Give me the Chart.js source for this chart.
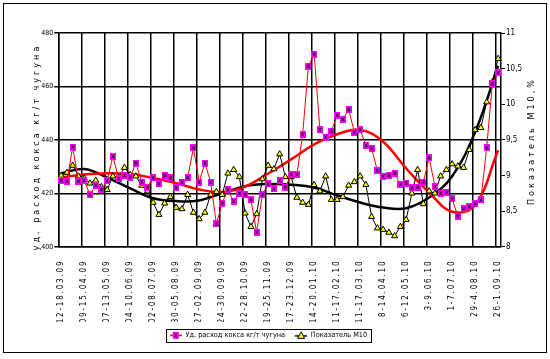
<!DOCTYPE html>
<html><head><meta charset="utf-8">
<script src="https://cdn.jsdelivr.net/npm/chart.js@4/dist/chart.umd.min.js"></script>
<style>html,body{margin:0;padding:0;background:#fff}#wrap{width:550px;height:359px}</style>
</head><body><div id="wrap"><canvas id="c" width="550" height="359"></canvas></div>
<script>
// ---- data ----
const tickLabels = ["12-18.03.09","09-15.04.09","07-13.05.09","04-10.06.09","02-08.07.09","30-05.08.09","27-02.09.09","24-30.09.09","22-28.10.09","19-25.11.09","17-23.12.09","14-20.01.10","11-17.02.10","11-17.03.10","8-14.04.10","6-12.05.10","3-9.06.10","1-7.07.10","29-4.08.10","26-1.09.10"];
const cokeRate = [
 424.8,424.5,437.3,424.5,424.8,419.5,423.0,421.4,424.8,433.8,
 425.5,426.7,426.0,431.3,424.2,422.3,425.8,423.5,426.7,425.8,
 422.0,424.2,425.8,437.0,424.2,431.3,424.2,408.5,416.3,421.3,
 417.0,420.0,419.5,417.5,405.4,419.5,423.5,421.7,424.8,422.3,
 427.0,427.0,442.1,467.6,472.1,443.8,441.0,443.3,449.2,447.6,
 451.3,442.9,443.8,437.9,436.7,428.5,426.3,426.7,427.5,423.3,
 423.8,422.0,422.3,424.2,433.3,422.6,420.0,420.4,417.9,411.4,
 414.2,415.0,416.0,417.5,437.0,461.1,465.1];
const m10 = [
 9.00,9.04,9.14,8.99,8.96,8.89,8.93,8.84,8.80,8.99,
 8.97,9.11,9.01,8.99,8.86,8.78,8.62,8.45,8.61,8.70,
 8.55,8.53,8.73,8.48,8.39,8.48,8.73,8.77,8.73,9.03,
 9.08,8.98,8.47,8.28,8.46,8.95,9.14,9.09,9.30,8.98,
 8.98,8.69,8.62,8.59,8.87,8.78,8.99,8.66,8.66,8.70,
 8.86,8.91,8.99,8.87,8.42,8.26,8.24,8.20,8.15,8.28,
 8.38,8.75,9.08,8.60,8.78,8.75,8.99,9.08,9.16,9.13,
 9.11,9.36,9.64,9.67,10.03,10.31,10.64];
// polynomial trend lines, read at every 4th week (label positions)
const cokeTrend = [425.9,427.0,427.5,427.2,425.7,423.8,421.4,420.5,422.5,427.4,432.7,438.3,442.1,443.8,439.3,429.3,420.3,413.1,415.6,436.1];
const m10Trend = [9.03,9.09,8.97,8.82,8.68,8.64,8.65,8.75,8.85,8.88,8.87,8.83,8.72,8.62,8.55,8.54,8.69,8.99,9.61,10.54];
const seriesNames = ["Уд. расход кокса кг/т чугуна","Показатель М10"];
const leftTitle = "уд. расход кокса кг/т чугуна";
const rightTitle = "Показатель М10,%";

const STEP = 4;
const categories = cokeRate.map((_, i) => i % STEP === 0 ? tickLabels[i / STEP] : "");
const spread = arr => categories.map((_, i) => i % STEP === 0 ? arr[i / STEP] : null);

const FONT = '"Liberation Sans Narrow","Arial Narrow","DejaVu Sans Condensed","Liberation Sans",sans-serif';

function drawSquareX(g, cx, cy) {
  g.fillStyle = '#ff00ff'; g.fillRect(cx - 3, cy - 3.5, 6, 7);
  g.strokeStyle = '#000'; g.lineWidth = 1; g.beginPath();
  g.moveTo(cx - 1.5, cy - 2); g.lineTo(cx + 1.5, cy + 2);
  g.moveTo(cx + 1.5, cy - 2); g.lineTo(cx - 1.5, cy + 2); g.stroke();
}
function drawTri(g, cx, cy) {
  g.fillStyle = '#ffff00'; g.strokeStyle = '#000'; g.lineWidth = 1;
  g.beginPath(); g.moveTo(cx, cy - 3.5); g.lineTo(cx + 3.5, cy + 3); g.lineTo(cx - 3.5, cy + 3); g.closePath();
  g.fill(); g.stroke();
}
function mk(w, h, fn) { const c = document.createElement('canvas'); c.width = w; c.height = h; fn(c.getContext('2d')); return c; }
const squareImg = mk(6, 7, g => drawSquareX(g, 3, 3.5));
const legendImgs = [
  mk(12, 9, g => { g.strokeStyle = '#ff0000'; g.lineWidth = 1.5; g.beginPath(); g.moveTo(0, 4.5); g.lineTo(12, 4.5); g.stroke(); drawSquareX(g, 6, 4.5); }),
  mk(12, 9, g => { g.strokeStyle = '#000'; g.lineWidth = 1.5; g.beginPath(); g.moveTo(0, 5); g.lineTo(12, 5); g.stroke(); drawTri(g, 6, 4.5); })
];

const decorPlugin = {
  id: 'decor',
  beforeDraw(chart) {
    const c = chart.ctx; c.save(); c.fillStyle = '#fff'; c.fillRect(0, 0, chart.width, chart.height); c.restore();
  },
  afterDraw(chart) {
    const c = chart.ctx;
    c.save();
    c.strokeStyle = '#000'; c.lineWidth = 1; c.strokeRect(3.5, 3.5, 543, 349);
    c.fillStyle = '#000'; c.font = '9px ' + FONT; c.textAlign = 'center'; c.textBaseline = 'middle';
    c.save(); c.letterSpacing = '3px'; c.translate(37, 147); c.rotate(-Math.PI / 2); c.fillText(leftTitle, 0, 0); c.restore();
    c.save(); c.letterSpacing = '3px'; c.translate(532, 141); c.rotate(-Math.PI / 2); c.fillText(rightTitle, 0, 0); c.restore();
    const hb = chart.legend && chart.legend.legendHitBoxes;
    if (hb && hb.length) {
      const l = hb[0].left - 4, r = hb[hb.length - 1].left + hb[hb.length - 1].width + 4;
      const t = hb[0].top - 3, b = hb[0].top + hb[0].height + 3;
      c.lineWidth = 1; c.strokeRect(Math.round(l) + 0.5, Math.round(t) + 0.5, Math.round(r - l), Math.round(b - t));
    }
    c.restore();
  }
};

function spacedLabels(scale, spacing) {
  if (scale._spaced) return;
  const orig = scale.drawLabels.bind(scale);
  scale.drawLabels = function (area) { const c = this.ctx; const p = c.letterSpacing; c.letterSpacing = spacing; orig(area); c.letterSpacing = p || '0px'; };
  scale._spaced = true;
}

new Chart(document.getElementById('c'), {
  type: 'line',
  data: {
    labels: categories,
    datasets: [
      { label: seriesNames[0], data: cokeRate, yAxisID: 'y', borderColor: '#ff0000', borderWidth: 1, pointStyle: squareImg, pointRadius: 3, tension: 0, order: 1 },
      { label: seriesNames[1], data: m10, yAxisID: 'y1', borderColor: '#000', borderWidth: 1, pointStyle: 'triangle', pointRadius: 3.5, pointBackgroundColor: '#ffff00', pointBorderColor: '#000', pointBorderWidth: 1, tension: 0, order: 1 },
      { label: 'trend1', data: spread(cokeTrend), yAxisID: 'y', borderColor: '#ff0000', borderWidth: 2.5, pointRadius: 0, spanGaps: true, tension: 0.4, order: 2 },
      { label: 'trend2', data: spread(m10Trend), yAxisID: 'y1', borderColor: '#000', borderWidth: 2.5, pointRadius: 0, spanGaps: true, tension: 0.4, order: 2 }
    ]
  },
  options: {
    responsive: false, animation: false, devicePixelRatio: 1,
    layout: { padding: { top: 33, left: 0, right: 13, bottom: 10 } },
    plugins: {
      tooltip: { enabled: false },
      legend: {
        position: 'bottom',
        labels: {
          usePointStyle: true, pointStyleWidth: 12, padding: 10, color: '#000',
          font: { family: FONT, size: 7.3 },
          generateLabels(chart) {
            const items = Chart.defaults.plugins.legend.labels.generateLabels(chart);
            return items.filter(i => i.datasetIndex < 2).map(i => Object.assign(i, { pointStyle: legendImgs[i.datasetIndex], fontColor: '#000' }));
          }
        }
      }
    },
    scales: {
      x: {
        type: 'category', offset: true,
        grid: { offset: true, color: ctx => (ctx.index % STEP === 0 ? '#000' : 'rgba(0,0,0,0)'), lineWidth: 1.5, drawTicks: false },
        border: { display: true, color: '#000', width: 1.5 },
        ticks: { autoSkip: false, maxRotation: 90, minRotation: 90, padding: 13, color: '#000', font: { family: FONT, size: 8 } },
        afterFit(s) { s.height = 75; spacedLabels(s, '1.8px'); }
      },
      y: {
        position: 'left', min: 400, max: 480,
        ticks: { stepSize: 20, padding: 1, color: '#000', font: { family: FONT, size: 7 } },
        grid: { color: '#000', lineWidth: 1.5, tickLength: 4 },
        border: { display: true, color: '#000', width: 1.5 },
        afterFit(s) { s.width = 58.3; }
      },
      y1: {
        position: 'right', min: 8, max: 11,
        ticks: { stepSize: 0.5, padding: 1, color: '#000', font: { family: FONT, size: 8 },
          callback: v => (Math.round(v * 10) / 10).toString().replace('.', ',') },
        grid: { drawOnChartArea: false, color: '#000', lineWidth: 1, tickLength: 4 },
        border: { display: true, color: '#000', width: 1.5 },
        afterFit(s) { s.width = 36; }
      }
    }
  },
  plugins: [decorPlugin]
});
</script>
</body></html>
